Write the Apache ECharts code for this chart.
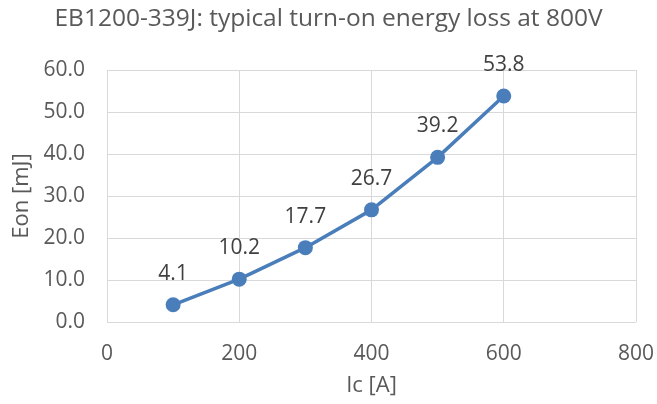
<!DOCTYPE html>
<html>
<head>
<meta charset="utf-8">
<script src="https://cdn.jsdelivr.net/npm/echarts@6/dist/echarts.min.js"></script>
<style>
  html, body { margin: 0; padding: 0; background: #fff; }
  #chart { width: 657px; height: 404px; }
</style>
</head>
<body>
<div id="chart"></div>
<script>
// Collector current (A) and turn-on energy (mJ)
const currentA = [100, 200, 300, 400, 500, 600];
const eonMJ = [4.1, 10.2, 17.7, 26.7, 39.2, 53.8];

const FONT = '"Open Sans", "Liberation Sans", sans-serif';

const chart = echarts.init(document.getElementById('chart'), null, { renderer: 'canvas' });
chart.setOption({
  animation: false,
  backgroundColor: '#ffffff',
  title: {
    text: 'EB1200-339J: typical turn-on energy loss at 800V',
    left: 'center',
    top: 2,
    textStyle: { fontFamily: FONT, fontSize: 24.5, fontWeight: 'normal', color: '#595959' }
  },
  grid: { left: 107, right: 19, top: 70, bottom: 82 },
  xAxis: {
    type: 'value',
    min: 0, max: 800, interval: 200,
    name: 'Ic [A]',
    nameLocation: 'middle',
    nameGap: 53,
    nameTextStyle: { fontFamily: FONT, fontSize: 22, color: '#595959' },
    axisLine: { show: false },
    axisTick: { show: false },
    axisLabel: { fontFamily: FONT, fontSize: 21, color: '#595959', margin: 22 },
    splitLine: { show: true, lineStyle: { color: '#d9d9d9', width: 1 } }
  },
  yAxis: {
    type: 'value',
    min: 0, max: 60, interval: 10,
    name: 'Eon [mJ]',
    nameLocation: 'middle',
    nameGap: 74,
    nameTextStyle: { fontFamily: FONT, fontSize: 22, color: '#595959' },
    axisLine: { show: false },
    axisTick: { show: false },
    axisLabel: {
      fontFamily: FONT, fontSize: 21, color: '#595959', margin: 22,
      formatter: v => v.toFixed(1)
    },
    splitLine: { show: true, lineStyle: { color: '#d9d9d9', width: 1 } }
  },
  series: [{
    type: 'line',
    data: currentA.map((x, i) => [x, eonMJ[i]]),
    symbol: 'circle',
    symbolSize: 15,
    lineStyle: { color: '#4a7ebb', width: 3.5 },
    itemStyle: { color: '#4a7ebb' },
    label: {
      show: true,
      position: 'top',
      distance: 13,
      fontFamily: FONT,
      fontSize: 21,
      color: '#404040',
      formatter: p => p.value[1].toFixed(1)
    }
  }]
});
</script>
</body>
</html>
